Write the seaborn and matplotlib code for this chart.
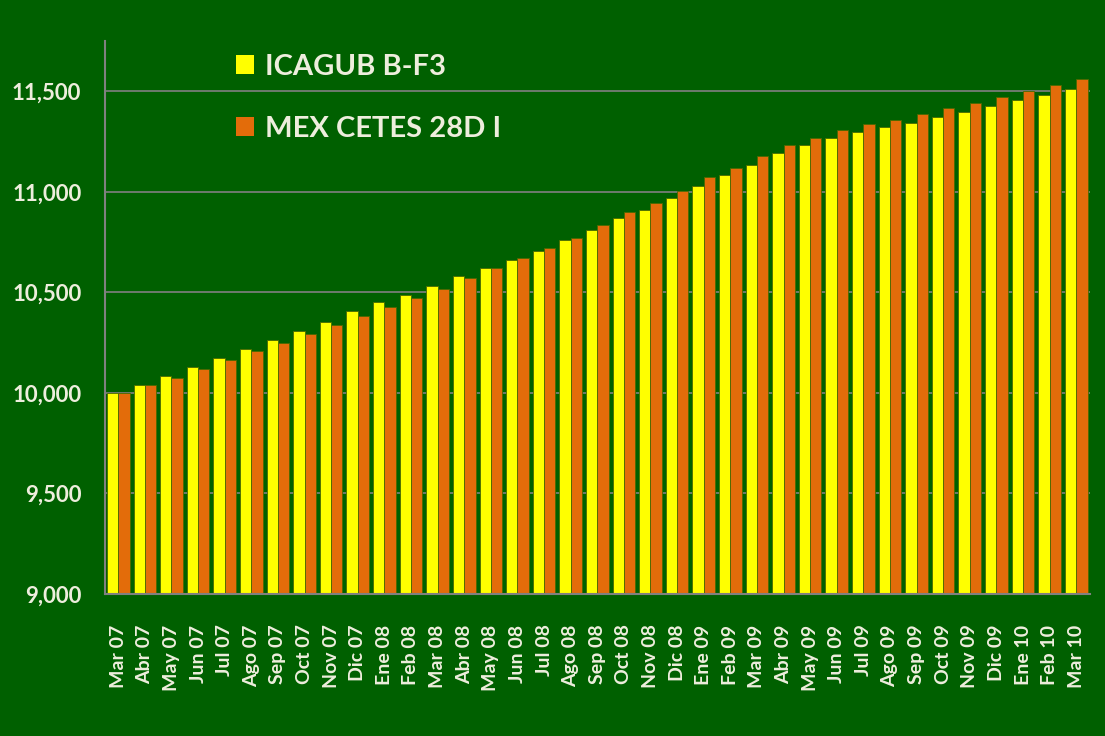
import numpy as np
import pandas as pd
import seaborn as sns
import matplotlib.pyplot as plt
from matplotlib.ticker import FuncFormatter, FixedLocator
from matplotlib.patches import Patch

# data
meses = ['Mar 07', 'Abr 07', 'May 07', 'Jun 07', 'Jul 07', 'Ago 07', 'Sep 07', 'Oct 07',
         'Nov 07', 'Dic 07', 'Ene 08', 'Feb 08', 'Mar 08', 'Abr 08', 'May 08', 'Jun 08',
         'Jul 08', 'Ago 08', 'Sep 08', 'Oct 08', 'Nov 08', 'Dic 08', 'Ene 09', 'Feb 09',
         'Mar 09', 'Abr 09', 'May 09', 'Jun 09', 'Jul 09', 'Ago 09', 'Sep 09', 'Oct 09',
         'Nov 09', 'Dic 09', 'Ene 10', 'Feb 10', 'Mar 10']

icagub = [10000, 10040, 10085, 10129, 10174, 10219, 10263, 10308, 10354, 10407,
          10452, 10489, 10533, 10580, 10624, 10662, 10707, 10760, 10812, 10871,
          10909, 10969, 11030, 11083, 11135, 11194, 11233, 11269, 11300, 11322,
          11345, 11375, 11397, 11428, 11458, 11481, 11511]

cetes = [10000, 10040, 10076, 10121, 10165, 10210, 10250, 10293, 10339, 10384,
         10429, 10474, 10518, 10571, 10624, 10669, 10720, 10773, 10835, 10901,
         10946, 11007, 11075, 11120, 11179, 11233, 11269, 11307, 11337, 11358,
         11390, 11419, 11443, 11473, 11502, 11532, 11562]

series = ['ICAGUB B-F3', 'MEX CETES 28D I']
colores = ['#FFFF00', '#E36C0A']

df = pd.DataFrame({
    'mes': meses * 2,
    'valor': icagub + cetes,
    'serie': [series[0]] * len(meses) + [series[1]] * len(meses),
})

bg = '#006000'
txt = '#EEEEDD'
grid = '#808080'

sns.set_style("white")
plt.rcParams['font.family'] = ['Lato', 'DejaVu Sans']

fig = plt.figure(figsize=(11.05, 7.36), dpi=100, facecolor=bg)
ax = fig.add_axes([0.095, 0.193, 0.891, 0.751])
ax.set_facecolor(bg)

sns.barplot(data=df, x='mes', y='valor', hue='serie', palette=colores, saturation=1,
            width=0.85, ax=ax, legend=False, edgecolor='#4a6a00', linewidth=0.6)

ax.set_ylim(9000, 11750)
ax.set_xlim(-0.5, len(meses) - 0.5)
ax.yaxis.set_major_locator(FixedLocator([9000, 9500, 10000, 10500, 11000, 11500]))
ax.yaxis.set_major_formatter(FuncFormatter(lambda v, p: f'{int(v):,}'))
ax.grid(axis='y', color=grid, linewidth=1.2)
ax.set_axisbelow(True)

for s in ['top', 'right']:
    ax.spines[s].set_visible(False)
for s in ['left', 'bottom']:
    ax.spines[s].set_color(grid)
    ax.spines[s].set_linewidth(1.5)

ax.set_xticks(np.arange(len(meses)))
ax.set_xticklabels(meses, rotation=90, fontsize=14, fontweight='bold', color=txt)
ax.set_xticks(np.arange(len(meses) + 1) - 0.5, minor=True)
ax.tick_params(axis='x', which='major', length=0, pad=22)
ax.tick_params(axis='x', which='minor', length=6, color=grid, width=1.2)
ax.tick_params(axis='y', length=7, color=grid, width=1.2, labelsize=16, labelcolor=txt, pad=10)
for lab in ax.get_yticklabels():
    lab.set_fontweight('bold')

ax.set_xlabel('')
ax.set_ylabel('')

handles = [Patch(facecolor=c, edgecolor='none') for c in colores]
leg = ax.legend(handles, series, loc='upper left', bbox_to_anchor=(0.106, 1.025),
                frameon=False, fontsize=21, labelspacing=1.25, handlelength=0.62,
                handleheight=0.62, handletextpad=0.38)
for t in leg.get_texts():
    t.set_color(txt)
    t.set_fontweight('bold')

fig.savefig('out.png', dpi=100, facecolor=bg)
